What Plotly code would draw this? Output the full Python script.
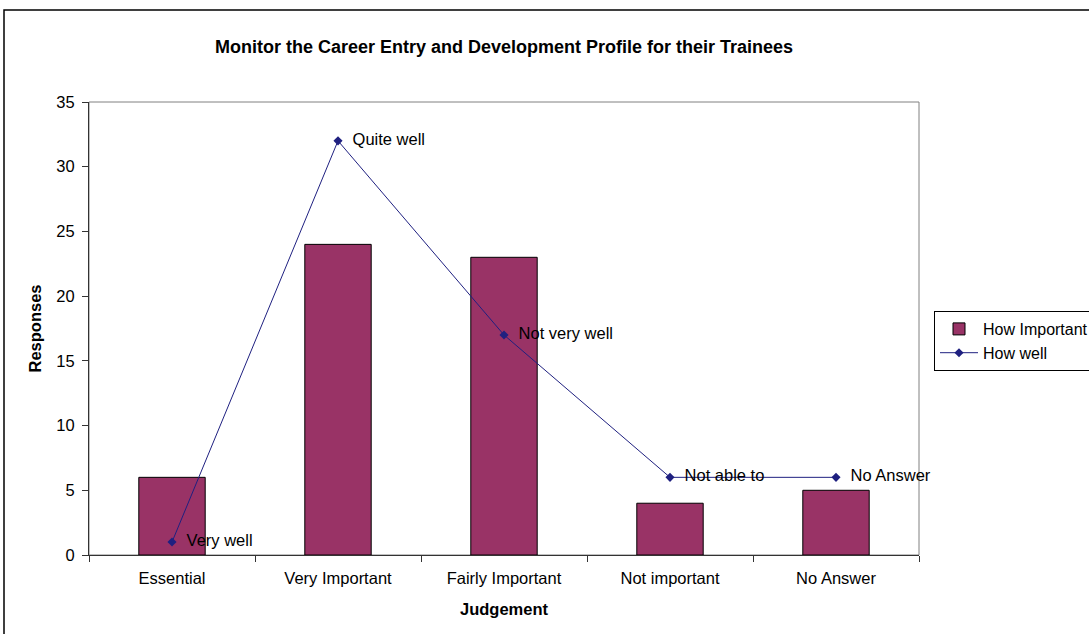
import plotly.graph_objects as go

categories = ["Essential", "Very Important", "Fairly Important", "Not important", "No Answer"]
how_important = [6, 24, 23, 4, 5]
how_well = [1, 32, 17, 6, 6]
how_well_labels = ["Very well", "Quite well", "Not very well", "Not able to", "No Answer"]
y_ticks = [0, 5, 10, 15, 20, 25, 30, 35]

FONT = "Liberation Sans, Arial, sans-serif"
FS = 16.5

fig = go.Figure()
fig.add_trace(go.Bar(
    x=categories, y=how_important, name="How Important",
    marker=dict(color="#993366", line=dict(color="black", width=1)),
))
fig.add_trace(go.Scatter(
    x=categories, y=how_well, name="How well",
    mode="lines+markers+text",
    line=dict(color="#1F2080", width=1),
    marker=dict(symbol="diamond", size=7, color="#1F2080"),
    text=["  " + t for t in how_well_labels], textposition="middle right",
    textfont=dict(family=FONT, size=FS, color="black"),
    cliponaxis=False,
))

fig.update_layout(
    width=1089, height=634,
    margin=dict(l=89, r=170, t=102, b=79, autoexpand=False),
    paper_bgcolor="white", plot_bgcolor="white",
    bargap=0.6,
    font=dict(family=FONT, size=FS, color="black"),
    title=dict(text="<b>Monitor the Career Entry and Development Profile for their Trainees</b>",
               x=0.5, xref="paper", y=1 - 47 / 634, yanchor="middle",
               font=dict(family=FONT, size=18, color="black")),
    showlegend=True,
    legend=dict(x=(934 - 89) / 830, y=(555 - 341) / 453, xanchor="left", yanchor="middle",
                bordercolor="black", borderwidth=1, bgcolor="white",
                font=dict(family=FONT, size=16), tracegroupgap=0,
                itemwidth=38),
    xaxis=dict(
        showline=True, linecolor="#333333", linewidth=1,
        ticks="outside", tickson="boundaries", ticklen=6, tickcolor="#333333",
        ticklabelstandoff=8,
        showgrid=False, zeroline=False,
        title=dict(text="<b>Judgement</b>", font=dict(family=FONT, size=FS), standoff=17),
        tickfont=dict(family=FONT, size=FS),
    ),
    yaxis=dict(
        range=[0, 35], tickvals=y_ticks,
        showline=True, linecolor="#333333", linewidth=1,
        ticks="outside", ticklen=6, tickcolor="#333333",
        ticklabelstandoff=4,
        showgrid=False, zeroline=False,
        title=dict(text="<b>Responses</b>", font=dict(family=FONT, size=FS), standoff=10),
        tickfont=dict(family=FONT, size=FS),
    ),
    shapes=[
        dict(type="rect", xref="paper", yref="paper", x0=0, x1=1, y0=0, y1=1,
             line=dict(color="#808080", width=1), layer="below"),
        dict(type="rect", xref="paper", yref="paper",
             x0=(4 - 89) / 830, x1=(1100 - 89) / 830,
             y0=(555 - 650) / 453, y1=(555 - 10) / 453,
             line=dict(color="black", width=1.5), layer="below"),
    ],
)

fig.write_html("out.html", config={"displayModeBar": False},
               post_script="document.body.style.margin='0';")
